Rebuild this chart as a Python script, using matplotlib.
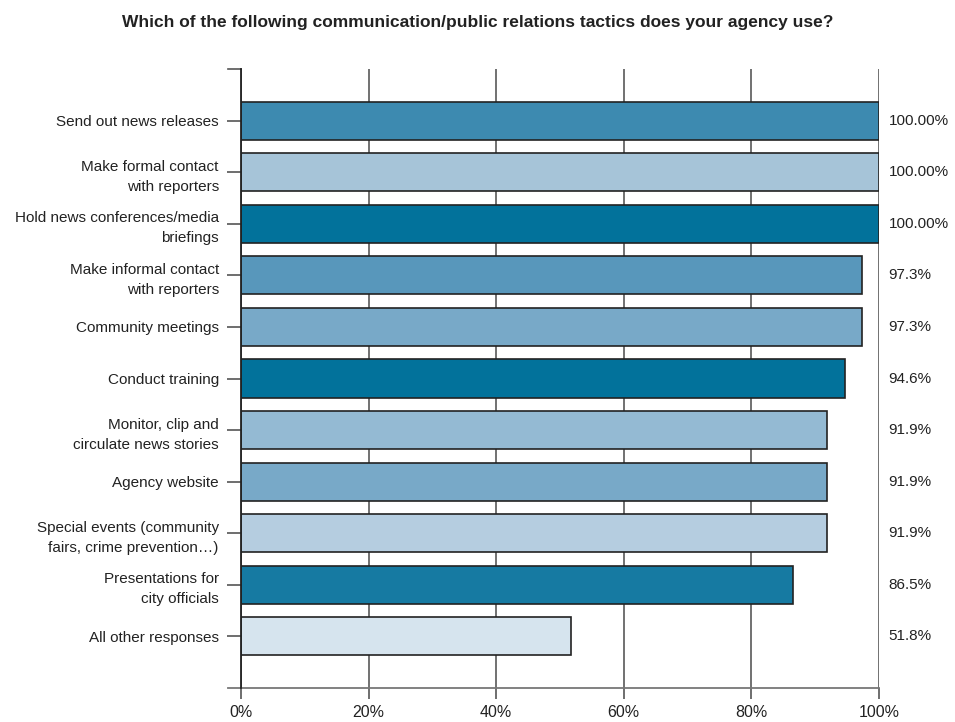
import numpy as np
import matplotlib
matplotlib.use('Agg')
import matplotlib.pyplot as plt

categories = ['Send out news releases',
              'Make formal contact\nwith reporters',
              'Hold news conferences/media\nbriefings',
              'Make informal contact\nwith reporters',
              'Community meetings',
              'Conduct training',
              'Monitor, clip and\ncirculate news stories',
              'Agency website',
              'Special events (community\nfairs, crime prevention\u2026)',
              'Presentations for\ncity officials',
              'All other responses']
values = [100.0, 100.0, 100.0, 97.3, 97.3, 94.6, 91.9, 91.9, 91.9, 86.5, 51.8]
value_labels = ['100.00%', '100.00%', '100.00%', '97.3%', '97.3%', '94.6%',
                '91.9%', '91.9%', '91.9%', '86.5%', '51.8%']
colors = ['#3d8ab0', '#a6c4d8', '#02729b', '#5897bb', '#78a9c8', '#02729b',
          '#94bad3', '#78a9c8', '#b5cde0', '#167aa2', '#d6e4ee']
xticks = [0, 20, 40, 60, 80, 100]

plt.rcParams['font.family'] = ['Liberation Sans', 'DejaVu Sans']

fig = plt.figure(figsize=(9.55, 7.22), dpi=100)
ax = fig.add_axes([0.2524, 0.0471, 0.668, 0.8573])

y = np.arange(len(categories))
ax.barh(y, values, height=0.74, color=colors, edgecolor='#222222', linewidth=1.2, zorder=3)

for yi, lab in zip(y, value_labels):
    ax.annotate(lab, (100.0, yi), xytext=(7, 0), textcoords='offset points',
                va='center', ha='left', fontsize=11, color='#222222')

ax.set_xlim(0, 100)
ax.set_ylim(len(categories), -1)
ax.set_xticks(xticks)
ax.set_xticklabels([f'{v}%' for v in xticks], fontsize=11.5, color='#222222')
ax.set_yticks(y)
ax.set_yticklabels(categories, fontsize=11, color='#222222', linespacing=1.55)
ax.tick_params(axis='y', length=10, width=1.2, color='#555555', pad=6)
ax.tick_params(axis='x', length=8, width=1.2, color='#555555', pad=4)

ax.grid(axis='x', color='#666666', linewidth=1.3, zorder=0)
for s in ['top', 'right']:
    ax.spines[s].set_visible(False)
ax.spines['left'].set_color('#222222')
ax.spines['left'].set_linewidth(1.3)
ax.spines['left'].set_zorder(4)
ax.spines['bottom'].set_color('#777777')
ax.spines['bottom'].set_linewidth(1.3)

# end marks at top and bottom of the left axis
ax.plot([-2, 0], [-1, -1], color='#555555', linewidth=1.2, clip_on=False)
ax.plot([-2, 0], [len(categories), len(categories)], color='#777777', linewidth=1.3, clip_on=False)

fig.text(0.5, 0.969, 'Which of the following communication/public relations tactics does your agency use?',
         ha='center', va='center', fontsize=12.5, fontweight='bold', color='#222222')

fig.savefig('out.png', dpi=100)
